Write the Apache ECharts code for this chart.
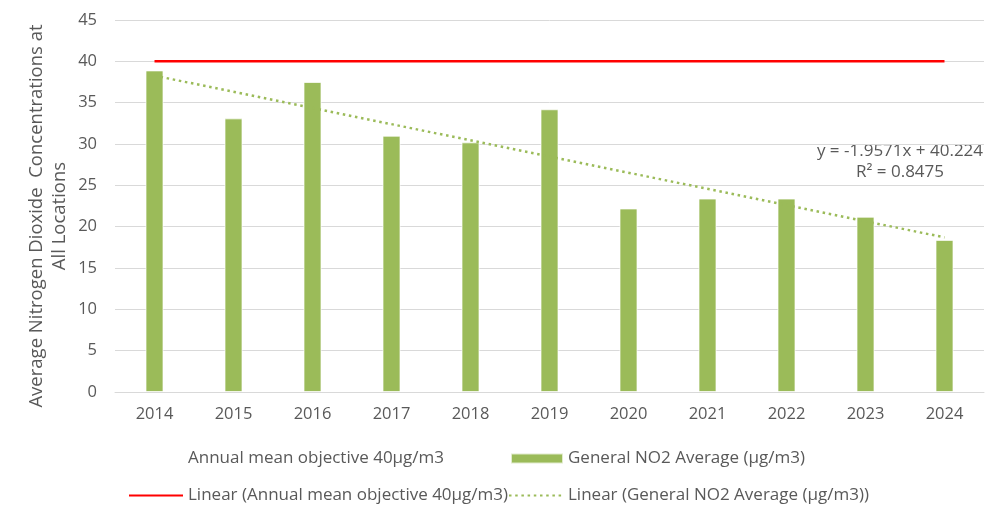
<!DOCTYPE html>
<html>
<head>
<meta charset="utf-8">
<script src="https://cdn.jsdelivr.net/npm/echarts@6/dist/echarts.min.js"></script>
<style>
  html, body { margin: 0; padding: 0; background: #fff; }
  #chart { width: 1003px; height: 521px; }
</style>
</head>
<body>
<div id="chart"></div>
<script>
  // years on the x axis
  var years = ['2014','2015','2016','2017','2018','2019','2020','2021','2022','2023','2024'];
  // general NO2 average (ug/m3)
  var no2Avg = [38.9, 33.1, 37.5, 31.0, 30.2, 34.2, 22.2, 23.4, 23.4, 21.2, 18.4];
  // annual mean objective
  var objective = [40, 40, 40, 40, 40, 40, 40, 40, 40, 40, 40];
  // end points of the excel trend line (first and last year)
  var trendEnds = [38.27, 18.70];
  var yTicks = { min: 0, max: 45, interval: 5 };

  var trendData = years.map(function (y, i) {
    if (i == 0) return trendEnds[0];
    if (i == years.length - 1) return trendEnds[1];
    return null;
  });

  var txt = '#595959';
  var green = '#9BBB59';
  var font = 'Open Sans';

  var chart = echarts.init(document.getElementById('chart'));
  var legendBase = {
    orient: 'horizontal',
    padding: 0,
    itemWidth: 52,
    itemHeight: 10,
    itemGap: 0,
    textStyle: { color: txt, fontSize: 17, fontFamily: font }
  };

  var option = {
    animation: false,
    textStyle: { fontFamily: font },
    grid: { left: 115, right: 19, top: 20, bottom: 129 },
    xAxis: {
      type: 'category',
      data: years,
      axisLine: { lineStyle: { color: '#D9D9D9' } },
      axisTick: { show: false },
      axisLabel: { color: txt, fontSize: 16.5, margin: 14 }
    },
    yAxis: {
      type: 'value',
      min: yTicks.min,
      max: yTicks.max,
      interval: yTicks.interval,
      axisLine: { show: false },
      axisTick: { show: false },
      axisLabel: { color: txt, fontSize: 16.5, margin: 18 },
      splitLine: { lineStyle: { color: '#D9D9D9', width: 1 } }
    },
    legend: [
      Object.assign({}, legendBase, {
        left: 130, top: 450,
        data: [{ name: 'Annual mean objective 40µg/m3', itemStyle: { opacity: 0 }, lineStyle: { opacity: 0 } }]
      }),
      Object.assign({}, legendBase, {
        left: 510, top: 450,
        data: [{ name: 'General NO2 Average (µg/m3)', icon: 'rect' }]
      }),
      Object.assign({}, legendBase, {
        left: 128, top: 487, itemWidth: 54,
        data: [{ name: 'Linear (Annual mean objective 40µg/m3)', itemStyle: { opacity: 0 } }]
      }),
      Object.assign({}, legendBase, {
        left: 508, top: 487, itemWidth: 54,
        data: [{ name: 'Linear (General NO2 Average (µg/m3))', itemStyle: { opacity: 0 } }]
      })
    ],
    series: [
      {
        name: 'Annual mean objective 40µg/m3',
        type: 'line',
        data: objective,
        symbol: 'none',
        lineStyle: { opacity: 0 },
        itemStyle: { opacity: 0 },
        silent: true
      },
      {
        name: 'General NO2 Average (µg/m3)',
        type: 'bar',
        data: no2Avg,
        barWidth: 18,
        itemStyle: { color: green, borderColor: 'rgba(255,255,255,0.7)', borderWidth: 1 }
      },
      {
        name: 'Linear (Annual mean objective 40µg/m3)',
        type: 'line',
        data: objective,
        symbol: 'none',
        lineStyle: { color: '#FF0000', width: 2.5 },
        itemStyle: { color: '#FF0000' },
        z: 5
      },
      {
        name: 'Linear (General NO2 Average (µg/m3))',
        type: 'line',
        data: trendData,
        connectNulls: true,
        symbol: 'none',
        lineStyle: { color: green, width: 2.5, type: [2.5, 3.7], cap: 'butt' },
        itemStyle: { color: green },
        z: 6
      }
    ],
    graphic: [
      {
        type: 'text',
        x: 48, y: 216,
        rotation: Math.PI / 2,
        style: {
          text: 'Average Nitrogen Dioxide  Concentrations at\nAll Locations',
          fill: txt,
          font: '18.5px "Open Sans"',
          align: 'center',
          verticalAlign: 'middle',
          lineHeight: 23
        }
      },
      {
        type: 'text',
        x: 900, y: 162,
        style: {
          text: 'y = -1.9571x + 40.224\nR² = 0.8475',
          fill: txt,
          font: '17px "Open Sans"',
          align: 'center',
          verticalAlign: 'middle',
          lineHeight: 21
        }
      }
    ]
  };
  chart.setOption(option);
</script>
</body>
</html>
